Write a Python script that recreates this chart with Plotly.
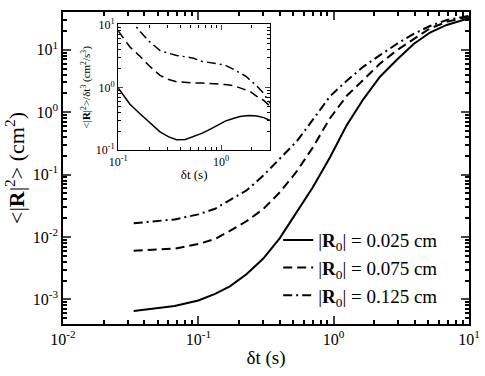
import plotly.graph_objects as go

# main panel: <|R|^2> vs dt
dt = [0.0333, 0.0667, 0.1, 0.133, 0.171, 0.228, 0.302, 0.40, 0.533, 0.70,
      0.94, 1.25, 1.66, 2.2, 2.93, 3.9, 5.15, 6.85, 10.0]
msd_025 = [6.5e-4, 7.8e-4, 9.6e-4, 1.22e-3, 1.62e-3, 2.55e-3, 4.5e-3, 9.6e-3, 0.025, 0.062,
           0.19, 0.62, 1.62, 3.7, 6.9, 12.4, 18.9, 25.0, 32.0]
msd_075 = [6.0e-3, 6.5e-3, 7.7e-3, 9.3e-3, 0.0125, 0.018, 0.028, 0.052, 0.112, 0.27,
           0.8, 1.83, 3.3, 6.0, 9.8, 15.0, 22.0, 28.0, 34.0]
msd_125 = [0.0166, 0.0191, 0.023, 0.0283, 0.039, 0.056, 0.0964, 0.18, 0.34, 0.75,
           1.8, 3.2, 5.37, 8.2, 12.4, 18.0, 24.0, 30.0, 35.0]

# inset: <|R|^2>/dt^3 vs dt
inset_dt = [0.1, 0.13, 0.16, 0.2, 0.255, 0.31, 0.37, 0.45, 0.54, 0.65,
            0.78, 0.91, 1.1, 1.31, 1.53, 1.75, 1.92, 2.23, 2.6, 3.0]
inset_025 = [0.975, 0.54, 0.39, 0.28, 0.196, 0.163, 0.147, 0.148, 0.164, 0.185,
             0.215, 0.245, 0.29, 0.32, 0.343, 0.352, 0.355, 0.35, 0.33, 0.297]
inset_075 = [7.9, 4.4, 3.2, 2.2, 1.55, 1.33, 1.23, 1.19, 1.18, 1.17,
             1.16, 1.14, 1.11, 1.07, 0.98, 0.91, 0.86, 0.72, 0.62, 0.5]
inset_125 = [24.0, 12.5, 8.0, 5.4, 3.84, 3.45, 3.2, 3.07, 2.9, 2.6,
             2.48, 2.4, 2.25, 1.95, 1.72, 1.5, 1.3, 1.05, 0.8, 0.56]

names = ["|<b>R</b><sub>0</sub>| = 0.025 cm",
         "|<b>R</b><sub>0</sub>| = 0.075 cm",
         "|<b>R</b><sub>0</sub>| = 0.125 cm"]
dashes = ["solid", "9px,5px", "9px,4px,2px,4px"]

fig = go.Figure()
for y, name, d in zip([msd_025, msd_075, msd_125], names, dashes):
    fig.add_trace(go.Scatter(x=dt, y=y, mode="lines", name=name,
                             line=dict(color="black", width=2, dash=d)))
for y, d in zip([inset_025, inset_075, inset_125], dashes):
    fig.add_trace(go.Scatter(x=inset_dt, y=y, mode="lines", showlegend=False,
                             xaxis="x2", yaxis="y2",
                             line=dict(color="black", width=1.5, dash=d)))

font = "Liberation Serif, Times New Roman, serif"
main_ax = dict(type="log", ticks="inside", ticklen=8, tickwidth=1.5, mirror="allticks",
               showline=True, linecolor="black", linewidth=1.5, showgrid=False,
               zeroline=False, tickfont=dict(family=font, size=16, color="black"),
               minor=dict(ticks="inside", ticklen=4, dtick="D1", showgrid=False,
                          tickcolor="black"))
inset_ax = dict(type="log", ticks="inside", ticklen=5, tickwidth=1, mirror="allticks",
                showline=True, linecolor="black", linewidth=1.2, showgrid=False,
                zeroline=False, tickfont=dict(family=font, size=12, color="black"),
                minor=dict(ticks="inside", ticklen=3, dtick="D1", showgrid=False,
                           tickcolor="black"))

fig.update_layout(
    width=485, height=376,
    margin=dict(l=63, r=16, t=4, b=52),
    plot_bgcolor="white", paper_bgcolor="white",
    font=dict(family=font, color="black"),
    xaxis=dict(main_ax, range=[-2, 1], tickvals=[0.01, 0.1, 1, 10],
               ticktext=["10<sup>-2</sup>", "10<sup>-1</sup>", "10<sup>0</sup>", "10<sup>1</sup>"],
               title=dict(text="δt (s)", font=dict(family=font, size=19), standoff=4)),
    yaxis=dict(main_ax, range=[-3.395, 1.605], tickvals=[0.001, 0.01, 0.1, 1, 10],
               ticktext=["10<sup>-3</sup>", "10<sup>-2</sup>", "10<sup>-1</sup>",
                         "10<sup>0</sup>", "10<sup>1</sup>"],
               title=dict(text="&lt;|<b>R</b>|<sup>2</sup>&gt; (cm<sup>2</sup>)",
                          font=dict(family=font, size=22), standoff=2)),
    xaxis2=dict(inset_ax, domain=[0.136, 0.51], anchor="y2", range=[-1, 0.477],
                tickvals=[0.1, 1], ticktext=["10<sup>-1</sup>", "10<sup>0</sup>"],
                title=dict(text="δt (s)", font=dict(family=font, size=13), standoff=2)),
    yaxis2=dict(inset_ax, domain=[0.557, 0.96], anchor="x2", range=[-1, 1],
                tickvals=[0.1, 1, 10],
                ticktext=["10<sup>-1</sup>", "10<sup>0</sup>", "10<sup>1</sup>"],
                title=dict(text="&lt;|<b>R</b>|<sup>2</sup>&gt;/δt<sup>3</sup> (cm<sup>2</sup>/s<sup>3</sup>)",
                           font=dict(family=font, size=11), standoff=2)),
    legend=dict(x=0.53, y=0.33, xanchor="left", yanchor="top",
                bgcolor="rgba(0,0,0,0)", font=dict(family=font, size=19),
                tracegroupgap=0, itemwidth=30),
)

# page has a default 8px body margin, drop it so the figure sits at the corner
fig.write_html("out.html", config={"displayModeBar": False},
               post_script="document.body.style.margin='0px';")
